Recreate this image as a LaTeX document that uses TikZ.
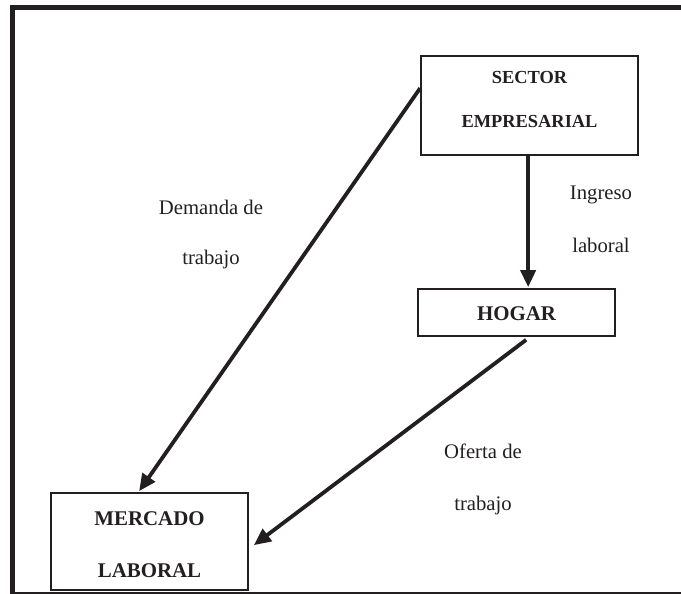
\documentclass[tikz,border=0pt]{standalone}
\usepackage{fontspec}
\setmainfont{Liberation Serif}
\usetikzlibrary{arrows.meta,calc}
\definecolor{ink}{RGB}{35,31,32}
\begin{document}
\begin{tikzpicture}[x=1pt,y=-1pt,
  box/.style={draw=ink,line width=1.7pt,rectangle,inner sep=0pt},
  flow/.style={draw=ink,line width=3.8pt,-{Triangle[length=17pt,width=15pt]}},
  boldS/.style={text=ink,inner sep=0pt,anchor=base,font=\fontsize{18.4}{22}\selectfont\bfseries},
  boldL/.style={text=ink,inner sep=0pt,anchor=base,font=\fontsize{20.9}{25}\selectfont\bfseries},
  plain/.style={text=ink,inner sep=0pt,anchor=base,font=\fontsize{20.7}{25}\selectfont},
  frame/.style={draw=ink,line width=5pt}]
\useasboundingbox (0,0) rectangle (681,594);
% outer frame
\draw[frame] (12.5,594) -- (12.5,7.5) -- (681,7.5);
\draw[draw=ink,line width=1.8pt] (12.5,592.6) -- (681,592.6);
% boxes
\node[box,minimum width=217pt,minimum height=99pt] (sector) at (529.5,105.5) {};
\node[box,minimum width=197pt,minimum height=47pt] (hogar) at (516.5,312.5) {};
\node[box,minimum width=197pt,minimum height=97pt] (mercado) at (149.5,541.5) {};
% box texts
\node[boldS] (sectorA) at (529.5,84) {SECTOR};
\node[boldS] (sectorB) at (529.5,128) {EMPRESARIAL};
\node[boldL] (hogarT) at (516.5,320) {HOGAR};
\node[boldL] (mercadoA) at (149.5,525) {MERCADO};
\node[boldL] (mercadoB) at (149.5,577) {LABORAL};
% labels
\node[plain] (demA) at (211,214) {Demanda de};
\node[plain] (demB) at (211,264) {trabajo};
\node[plain] (ingA) at (601,199) {Ingreso};
\node[plain] (ingB) at (601,252) {laboral};
\node[plain] (ofeA) at (483,458) {Oferta de};
\node[plain] (ofeB) at (483,510) {trabajo};
% connectors
\draw[flow] ($(sector.north west)+(0,33)$) -- ($(mercado.north west)+(89,-1)$);
\draw[flow] ($(sector.south west)+(108,0)$) -- ($(hogar.north west)+(111,-1)$);
\draw[flow] ($(hogar.south west)+(109,3)$) -- ($(mercado.north east)+(5,53)$);
\end{tikzpicture}
\end{document}
